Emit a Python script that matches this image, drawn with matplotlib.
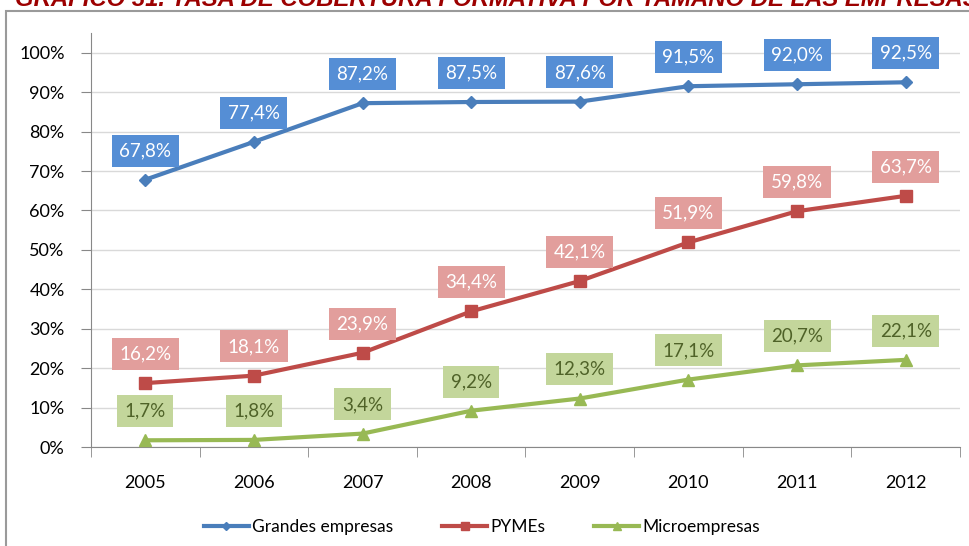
import matplotlib.pyplot as plt
from matplotlib.ticker import FuncFormatter
from matplotlib.patches import Rectangle

plt.rcParams['font.family'] = ['Lato', 'DejaVu Sans']

## Data
years = ['2005', '2006', '2007', '2008', '2009', '2010', '2011', '2012']
grandes = [67.8, 77.4, 87.2, 87.5, 87.6, 91.5, 92.0, 92.5]
pymes = [16.2, 18.1, 23.9, 34.4, 42.1, 51.9, 59.8, 63.7]
micro = [1.7, 1.8, 3.4, 9.2, 12.3, 17.1, 20.7, 22.1]

title = 'GRÁFICO 31. TASA DE COBERTURA FORMATIVA POR TAMAÑO DE LAS EMPRESAS'

fig = plt.figure(figsize=(9.7, 5.46), dpi=100)
ax = fig.add_axes([91/970, 1-447/546, (960-91)/970, (447-33)/546])

x = list(range(len(years)))

series = [
    (grandes, 'Grandes empresas', '#4A7EBB', 'D', 6, '#558ED5', 'white'),
    (pymes, 'PYMEs', '#BE4B48', 's', 8, '#E29E9C', 'white'),
    (micro, 'Microempresas', '#98B954', '^', 8, '#C3D69B', '#4F6228'),
]

for vals, name, col, mk, ms, boxcol, txtcol in series:
    ax.plot(x, vals, color=col, lw=3, marker=mk, markersize=ms,
            markerfacecolor=col, markeredgecolor=col, label=name, zorder=3)
    for xi, v in zip(x, vals):
        ax.annotate(f'{v:.1f}%'.replace('.', ','), (xi, v),
                    xytext=(0, 21), textcoords='offset points',
                    ha='center', va='center', fontsize=13.5, color=txtcol,
                    bbox=dict(boxstyle='square,pad=0.4', fc=boxcol, ec='none'),
                    zorder=4)

ax.set_xlim(-0.5, len(years) - 0.5)
ax.set_ylim(0, 105)
ax.set_yticks(range(0, 101, 10))
ax.yaxis.set_major_formatter(FuncFormatter(lambda v, p: f'{int(v)}%'))
ax.set_xticks(x)
ax.set_xticklabels(years)
ax.set_xticks([i - 0.5 for i in range(len(years) + 1)], minor=True)
ax.tick_params(axis='x', which='major', length=0, pad=20, labelsize=13)
ax.tick_params(axis='x', which='minor', length=7, color='#888888')
ax.tick_params(axis='y', length=7, color='#888888', labelsize=13, pad=12)
ax.grid(axis='y', color='#D9D9D9', lw=1)
ax.set_axisbelow(True)
for s in ['top', 'right']:
    ax.spines[s].set_visible(False)
ax.spines['left'].set_color('#888888')
ax.spines['bottom'].set_color('#888888')

ax.legend(loc='center', bbox_to_anchor=(0.45, 1 - (527 - 33) / (447 - 33)),
          ncol=3, frameon=False, fontsize=12.5, handlelength=2.6,
          columnspacing=2.8, handletextpad=0.2, markerscale=0.7)

# outer chart frame
fig.patches.append(Rectangle((6/970, -0.1), 1.2, 1 - 11/546 + 0.1,
                             transform=fig.transFigure, fill=False,
                             ec='#9A9A9A', lw=1.5))

fig.text(15/970, 1 - 6/546, title, fontsize=17.2, fontweight='bold',
         fontstyle='italic', family=['Liberation Sans', 'DejaVu Sans'],
         color='#9C0000', ha='left', va='baseline')

plt.savefig('out.png', dpi=100)
